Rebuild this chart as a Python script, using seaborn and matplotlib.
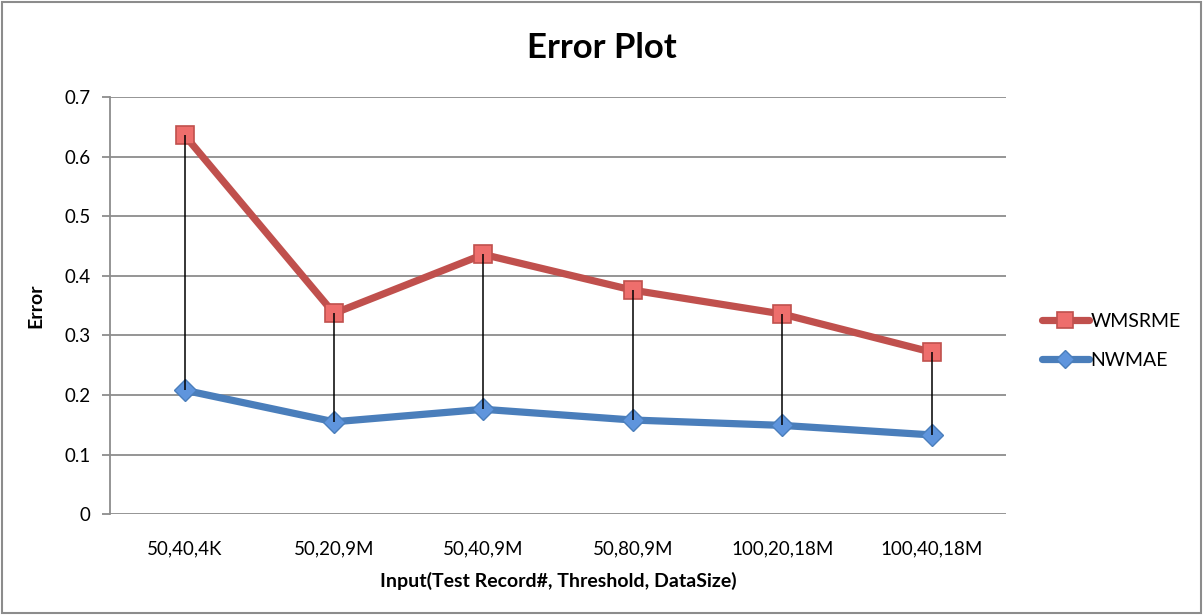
import numpy as np
import pandas as pd
import matplotlib
matplotlib.use("Agg")
import matplotlib.pyplot as plt
from matplotlib.patches import Rectangle
import seaborn as sns

# ── Data ─────────────────────────────────────────────────────────────────────
CATEGORIES = ["50,40,4K", "50,20,9M", "50,40,9M", "50,80,9M", "100,20,18M", "100,40,18M"]
WMSRME = [0.636, 0.337, 0.436, 0.376, 0.336, 0.272]
NWMAE = [0.208, 0.155, 0.176, 0.158, 0.149, 0.133]
Y_TICKS = [0, 0.1, 0.2, 0.3, 0.4, 0.5, 0.6, 0.7]

RED, RED_FACE = "#C0504D", "#EE6E6C"
BLUE, BLUE_FACE = "#4A7EBB", "#5F95DD"
GRID = "#8C8C8C"

sns.set_theme(style="white")
plt.rcParams["font.family"] = ["Lato", "DejaVu Sans"]
plt.rcParams["text.color"] = "black"
plt.rcParams["axes.labelcolor"] = "black"
plt.rcParams["xtick.color"] = "black"
plt.rcParams["ytick.color"] = "black"

pos = np.arange(len(CATEGORIES))
df = pd.DataFrame({"pos": pos, "WMSRME": WMSRME, "NWMAE": NWMAE})

fig = plt.figure(figsize=(12.03, 6.15), dpi=100)
ax = fig.add_axes([0.0914, 0.164, 0.745, 0.678])

sns.lineplot(data=df, x="pos", y="WMSRME", ax=ax, color=RED, lw=5.2,
             marker="s", markersize=13.5, markerfacecolor=RED_FACE,
             markeredgecolor=RED, markeredgewidth=1.2, label="WMSRME", zorder=3)
sns.lineplot(data=df, x="pos", y="NWMAE", ax=ax, color=BLUE, lw=5.2,
             marker="D", markersize=11, markerfacecolor=BLUE_FACE,
             markeredgecolor=BLUE, markeredgewidth=1.0, label="NWMAE", zorder=3)

# high-low lines between the two series
ax.vlines(pos, NWMAE, WMSRME, color="black", lw=1.1, zorder=4)

ax.set_xlim(-0.5, len(CATEGORIES) - 0.5)
ax.set_ylim(0, 0.7)
ax.set_yticks(Y_TICKS)
ax.set_yticklabels(["0"] + [f"{t:.1f}" for t in Y_TICKS[1:]])
ax.set_xticks(pos)
ax.set_xticklabels(CATEGORIES)
ax.grid(axis="y", color=GRID, lw=1.3)
ax.set_axisbelow(True)
for side in ["top", "right", "bottom"]:
    ax.spines[side].set_visible(False)
ax.spines["left"].set_color(GRID)
ax.spines["left"].set_linewidth(1.3)
ax.tick_params(axis="y", left=True, length=6, width=1.3, color=GRID,
               labelsize=13.5, pad=8)
ax.tick_params(axis="x", bottom=False, labelsize=13.5, pad=13)

ax.set_xlabel("Input(Test Record#, Threshold, DataSize)", fontsize=14,
              fontweight="bold", labelpad=10)
ax.set_ylabel("Error", fontsize=14, fontweight="bold", labelpad=14)
fig.text(0.5, 0.922, "Error Plot", ha="center", va="center",
         fontsize=25, fontweight="bold")

leg = ax.legend(loc="center left", bbox_to_anchor=(1.02, 0.415), frameon=False,
                fontsize=14, handlelength=2.45, handletextpad=0.05,
                labelspacing=1.15, markerscale=0.85)

fig.patches.append(Rectangle((0.002, 0.004), 0.996, 0.992, transform=fig.transFigure,
                             fill=False, edgecolor="#8C8C8C", lw=1.5))

fig.savefig("out.png", dpi=100)
